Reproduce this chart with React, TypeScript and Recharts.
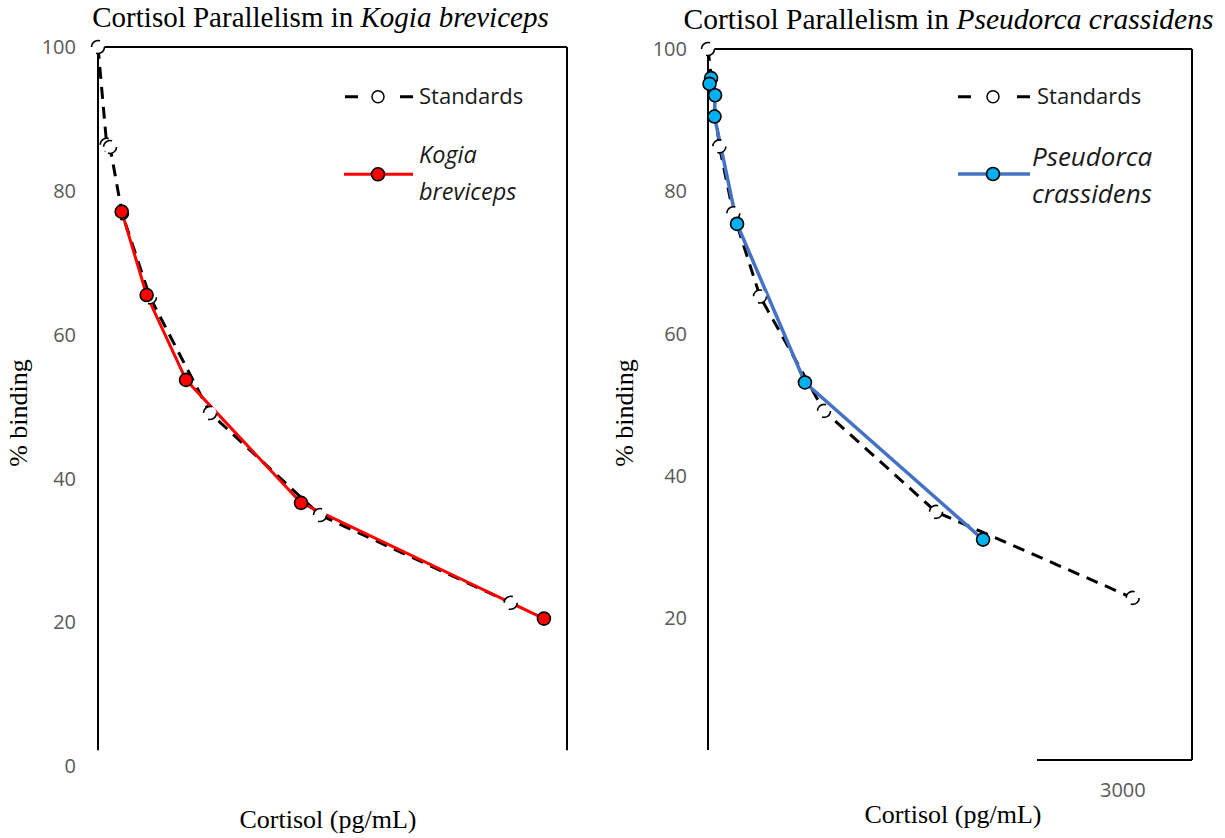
import React from "react";
import { LineChart, Line, XAxis, YAxis, ReferenceLine, Legend } from "recharts";

// ---- data (x: cortisol pg/mL, y: % binding) ----
const kogiaStdX = [0, 65, 90, 179, 388, 836, 1657, 3080];
const kogiaStdY = [100, 86.4, 86.1, 76.9, 65.2, 49.1, 34.9, 22.7];
const kogiaX = [177, 363, 657, 1515, 3328];
const kogiaY = [77.1, 65.5, 53.7, 36.6, 20.5];

const pseudStdX = [0, 82, 183, 376, 839, 1649, 3071];
const pseudStdY = [100, 86.3, 76.9, 65.2, 49.1, 34.9, 22.8];
const pseudX = [22, 11, 51, 47, 210, 701, 1989];
const pseudY = [95.9, 95.1, 93.5, 90.5, 75.4, 53.1, 31.0];

const leftTicks = [0, 20, 40, 60, 80, 100];
const rightTicks = [20, 40, 60, 80, 100];
const xTicksRight = [3000];
const xDomain: [number, number] = [0, 3500];
const yDomain: [number, number] = [0, 100];

const toPts = (xs: number[], ys: number[]) => xs.map((x, i) => ({ x, y: ys[i] }));

const stdDot = { r: 6.5, fill: "#ffffff", stroke: "#000000", strokeWidth: 1.6 };
const tickStyle = { fill: "#595959", fontSize: 20, fontFamily: "'Open Sans', sans-serif" };
const frame = { stroke: "#000000", strokeWidth: 2, ifOverflow: "visible" as const };
const sans = "'Open Sans', sans-serif";

const LegendLeft = () => (
  <svg width={230} height={140} style={{ overflow: "visible" }}>
    <line x1={10} y1={24.7} x2={78} y2={24.7} stroke="#000" strokeWidth={3} strokeDasharray="13 42 13" />
    <circle cx={43} cy={24.7} r={6} fill="#fff" stroke="#000" strokeWidth={1.5} />
    <text x={84} y={24.7} dy="0.35em" fontSize={22} fontFamily={sans} fill="#1a1a1a">Standards</text>
    <line x1={9} y1={102.3} x2={78} y2={102.3} stroke="#ff0000" strokeWidth={3} />
    <circle cx={43} cy={102.3} r={6.5} fill="#ff0000" stroke="#000" strokeWidth={1.6} />
    <text x={84} y={83} dy="0.35em" fontSize={23.5} fontStyle="italic" fontFamily={sans} fill="#1a1a1a">Kogia</text>
    <text x={84} y={120} dy="0.35em" fontSize={23.5} fontStyle="italic" fontFamily={sans} fill="#1a1a1a">breviceps</text>
  </svg>
);

const LegendRight = () => (
  <svg width={230} height={140} style={{ overflow: "visible" }}>
    <line x1={8} y1={24.7} x2={80} y2={24.7} stroke="#000" strokeWidth={3} strokeDasharray="13 46 13" />
    <circle cx={43} cy={24.7} r={6} fill="#fff" stroke="#000" strokeWidth={1.5} />
    <text x={87} y={24.7} dy="0.35em" fontSize={22} fontFamily={sans} fill="#1a1a1a">Standards</text>
    <line x1={8} y1={102} x2={80} y2={102} stroke="#4472C4" strokeWidth={3.5} />
    <circle cx={43} cy={102} r={6.5} fill="#00B0F0" stroke="#000" strokeWidth={1.6} />
    <text x={82} y={85} dy="0.35em" fontSize={26} fontStyle="italic" fontFamily={sans} fill="#1a1a1a">Pseudorca</text>
    <text x={82} y={122} dy="0.35em" fontSize={26} fontStyle="italic" fontFamily={sans} fill="#1a1a1a">crassidens</text>
  </svg>
);

const serif = "'Liberation Serif', 'Times New Roman', serif";

export default function App() {
  return (
    <div style={{ position: "absolute", left: 0, top: 0, width: 1225, height: 838, background: "#fff" }}>
      <div style={{ position: "absolute", left: 0, top: 0 }}>
        <LineChart width={600} height={838} margin={{ top: 47, right: 33, bottom: 72, left: 38 }}>
          <XAxis type="number" dataKey="x" domain={xDomain} hide height={0} />
          <YAxis
            type="number"
            domain={yDomain}
            ticks={leftTicks}
            interval={0}
            width={60}
            axisLine={false}
            tickLine={false}
            tickSize={0}
            tickMargin={22}
            tick={tickStyle}
          />
          <ReferenceLine segment={[{ x: 0, y: 2.2 }, { x: 0, y: 100 }]} {...frame} />
          <ReferenceLine segment={[{ x: 0, y: 100 }, { x: 3500, y: 100 }]} {...frame} />
          <ReferenceLine segment={[{ x: 3500, y: 2.2 }, { x: 3500, y: 100 }]} {...frame} />
          <Line
            data={toPts(kogiaStdX, kogiaStdY)}
            dataKey="y"
            type="linear"
            stroke="#000"
            strokeWidth={3}
            strokeDasharray="12 8"
            dot={stdDot}
            activeDot={false}
            isAnimationActive={false}
          />
          <Line
            data={toPts(kogiaX, kogiaY)}
            dataKey="y"
            type="linear"
            stroke="#ff0000"
            strokeWidth={3}
            dot={{ r: 6.5, fill: "#ff0000", stroke: "#000", strokeWidth: 1.6 }}
            activeDot={false}
            isAnimationActive={false}
          />
          <Legend
            layout="vertical"
            verticalAlign="middle"
            align="center"
            content={() => <LegendLeft />}
            wrapperStyle={{ position: "absolute", left: 335, top: 72, width: 230, height: 140 }}
          />
        </LineChart>
      </div>
      <div style={{ position: "absolute", left: 610, top: 0 }}>
        <LineChart width={615} height={838} margin={{ top: 49, right: 33, bottom: 48, left: 38 }}>
          <XAxis
            type="number"
            dataKey="x"
            domain={xDomain}
            ticks={xTicksRight}
            interval={0}
            height={30}
            axisLine={false}
            tickLine={false}
            tickSize={0}
            tickMargin={23}
            tick={tickStyle}
          />
          <YAxis
            type="number"
            domain={yDomain}
            ticks={rightTicks}
            interval={0}
            width={60}
            axisLine={false}
            tickLine={false}
            tickSize={0}
            tickMargin={21}
            tick={tickStyle}
          />
          <ReferenceLine segment={[{ x: 0, y: 1.4 }, { x: 0, y: 100 }]} {...frame} />
          <ReferenceLine segment={[{ x: 0, y: 100 }, { x: 3500, y: 100 }]} {...frame} />
          <ReferenceLine segment={[{ x: 3500, y: 0 }, { x: 3500, y: 100 }]} {...frame} />
          <ReferenceLine segment={[{ x: 2379, y: 0 }, { x: 3500, y: 0 }]} {...frame} />
          <Line
            data={toPts(pseudStdX, pseudStdY)}
            dataKey="y"
            type="linear"
            stroke="#000"
            strokeWidth={3}
            strokeDasharray="12 8"
            dot={stdDot}
            activeDot={false}
            isAnimationActive={false}
          />
          <Line
            data={toPts(pseudX, pseudY)}
            dataKey="y"
            type="linear"
            stroke="#4472C4"
            strokeWidth={3.5}
            dot={{ r: 6.5, fill: "#00B0F0", stroke: "#000", strokeWidth: 1.6 }}
            activeDot={false}
            isAnimationActive={false}
          />
          <Legend
            layout="vertical"
            verticalAlign="middle"
            align="center"
            content={() => <LegendRight />}
            wrapperStyle={{ position: "absolute", left: 340, top: 72, width: 230, height: 140 }}
          />
        </LineChart>
      </div>
      <svg
        width={1225}
        height={838}
        style={{ position: "absolute", left: 0, top: 0, pointerEvents: "none" }}
      >
        <text x={320.5} y={27} textAnchor="middle" fontSize={29} fontFamily={serif} fill="#000">
          Cortisol Parallelism in <tspan fontStyle="italic">Kogia breviceps</tspan>
        </text>
        <text x={948.5} y={29} textAnchor="middle" fontSize={29.5} fontFamily={serif} fill="#000">
          Cortisol Parallelism in <tspan fontStyle="italic">Pseudorca crassidens</tspan>
        </text>
        <text x={328} y={828} textAnchor="middle" fontSize={26} fontFamily={serif} fill="#000">
          Cortisol (pg/mL)
        </text>
        <text x={953} y={823} textAnchor="middle" fontSize={26} fontFamily={serif} fill="#000">
          Cortisol (pg/mL)
        </text>
        <text x={27} y={413} textAnchor="middle" fontSize={26} fontFamily={serif} fill="#000" transform="rotate(-90 27 413)">
          % binding
        </text>
        <text x={633} y={413} textAnchor="middle" fontSize={26} fontFamily={serif} fill="#000" transform="rotate(-90 633 413)">
          % binding
        </text>
      </svg>
    </div>
  );
}
